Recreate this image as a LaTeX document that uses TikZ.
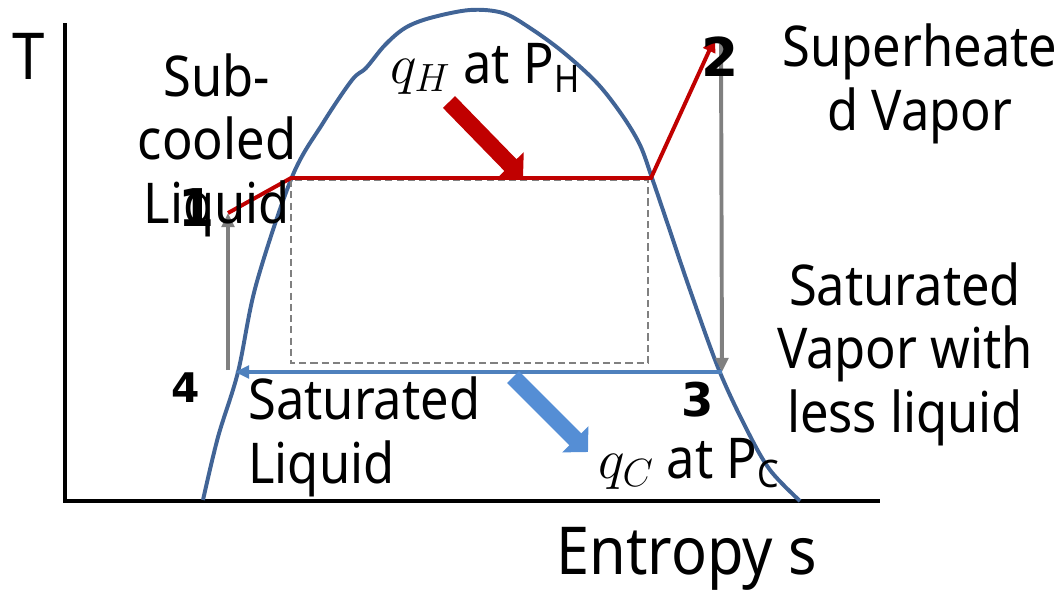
\documentclass[tikz,border=0pt]{standalone}
\usepackage{fix-cm}
\usepackage{fontspec}
\setmainfont[FakeStretch=0.9]{Noto Sans}
\newfontfamily\numfont{DejaVu Sans}
\usetikzlibrary{arrows.meta}
\definecolor{dome}{RGB}{65,100,150}
\definecolor{hotred}{RGB}{192,0,0}
\definecolor{coolblue}{RGB}{79,129,189}
\definecolor{heatblue}{RGB}{85,142,213}
\definecolor{pathgray}{RGB}{128,128,128}
\newcommand{\sizeto}[1]{\fontsize{#1}{#1}\selectfont}
\newcommand{\lowsub}[1]{\raisebox{-0.32ex}{\sizeto{27}#1}}
\tikzset{
  lbl/.style={font=\fontsize{40}{45}\selectfont, inner sep=0pt, align=center},
  num/.style={font=\numfont\bfseries\sizeto{#1}, inner sep=0pt},
  proc/.style={line width=2.8pt, -{Triangle[length=10pt,width=9pt]}},
  heat/.style={line width=12pt, -{Triangle[length=12.8pt,width=25.6pt]}},
}
\begin{document}
\begin{tikzpicture}[x=0.025cm,y=-0.025cm]
\useasboundingbox (0,0) rectangle (1059,593);

\coordinate (taxis) at (65,23);
\coordinate (origin) at (65,501);
\coordinate (saxis) at (880,501);
\draw[line width=2.8pt] (taxis) -- (origin) -- (saxis);

\draw[dome, line width=2.8pt] plot[smooth, tension=0.55] coordinates {
  (203,500) (218,437) (238,372) (256,285) (292,177) (323,123)
  (352,80) (366,68) (385,45) (405,28) (430,18) (470,10) (503,13) (530,28) (563,52)
  (597,83) (622,115) (640,145) (652,178) (668,225) (690,290) (719,370)
  (747,430) (770,470) (800,501)};

\coordinate (s1) at (228,213);
\coordinate (sl) at (291,178);
\coordinate (sv) at (651,178);
\coordinate (s2) at (715,38);
\coordinate (s2t) at (721,44);
\coordinate (s3) at (722,372);
\coordinate (s4) at (235,372);
\coordinate (s4b) at (228,370);

\draw[pathgray, line width=1.5pt, dash pattern=on 5pt off 3pt] (291,180) rectangle (648,363);

\draw[pathgray, proc] (s2t) -- (s3);
\draw[pathgray, proc] (s4b) -- (s1);
\draw[coolblue, proc] (s3) -- (s4);
\draw[hotred, proc] (s1) -- (sl) -- (sv) -- (s2);

\coordinate (qh0) at (449,102);
\coordinate (qh1) at (523,178);
\coordinate (qc0) at (513,377);
\coordinate (qc1) at (588,452);
\draw[hotred, heat] (qh0) -- (qh1);
\draw[heatblue, heat] (qc0) -- (qc1);

\node[num=37] (n1) at (197,208) {1};
\node[num=38] (n2) at (720,57) {2};
\node[num=33] (n3) at (698,400) {3};
\node[num=29] (n4) at (186,388) {4};

\node[font=\sizeto{46}, inner sep=0pt, anchor=base west] (tlbl) at (12,79) {T};
\node[font=\sizeto{47}, inner sep=0pt, anchor=base west] (slbl) at (556,574) {Entropy s};

\node[lbl, anchor=base] (subc) at (217,223) {Sub-\\cooled\\Liquid};
\node[lbl, anchor=base] (suph) at (920,130) {Superheate\\d Vapor};
\node[lbl, anchor=base] (satv) at (905,432) {Saturated\\Vapor with\\less liquid};
\node[lbl, align=left, anchor=base west] (satl) at (248,483) {Saturated\\Liquid};
\node[lbl, anchor=base west] (qhl) at (390,83) {$q_H$\ at P\lowsub{H}};
\node[lbl, anchor=base west] (qcl) at (598,478) {$q_C$\ at P\lowsub{C}};
\end{tikzpicture}
\end{document}
